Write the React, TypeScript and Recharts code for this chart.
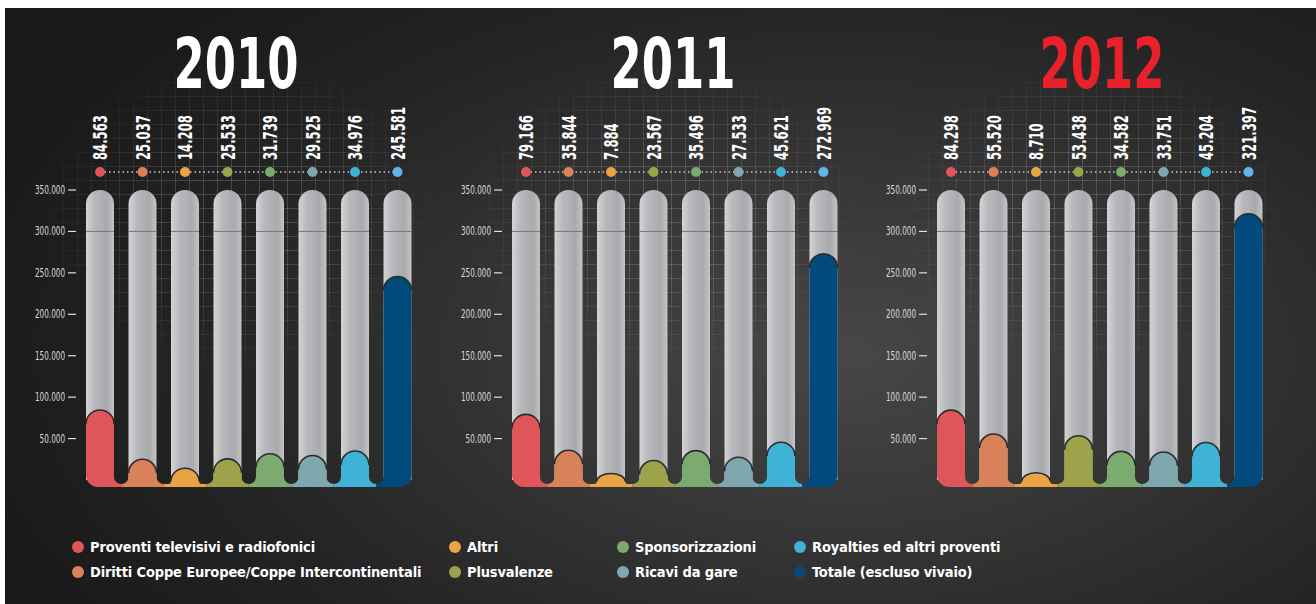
import React from "react";
import { Bar, BarChart, XAxis, YAxis } from "recharts";

const CATEGORIES = [
	"Proventi televisivi e radiofonici",
	"Diritti Coppe Europee/Coppe Intercontinentali",
	"Altri",
	"Plusvalenze",
	"Sponsorizzazioni",
	"Ricavi da gare",
	"Royalties ed altri proventi",
	"Totale (escluso vivaio)",
];

const YEARS = ["2010", "2011", "2012"];

const VALUES_2010 = [84563, 25037, 14208, 25533, 31739, 29525, 34976, 245581];
const VALUES_2011 = [79166, 35844, 7884, 23567, 35496, 27533, 45621, 272969];
const VALUES_2012 = [84298, 55520, 8710, 53438, 34582, 33751, 45204, 321397];

const Y_TICKS = [50000, 100000, 150000, 200000, 250000, 300000, 350000];
const Y_MAX = 350000;
const CAP_LEVEL = 300000; // seam line on the grey tubes

const BAR_COLORS = ["#df5559", "#d9825a", "#eba444", "#9ca34a", "#7bab6f", "#7fa8ae", "#3eb3d6", "#004a7c"];
const DOT_COLORS = ["#df5559", "#d9825a", "#eba444", "#9ca34a", "#7bab6f", "#7fa8ae", "#3eb3d6", "#5cb6ea"];
const LEGEND_COLORS = ["#df5559", "#d9825a", "#eba444", "#9ca34a", "#7bab6f", "#7fa8ae", "#3eb3d6", "#0a4a7a"];

// layout
const FONT = '"DejaVu Sans Condensed", "Liberation Sans", sans-serif';
const CHART_W = 420;
const CHART_H = 500;
const BAR_W = 28;
const STEP = 42.5;
const BASE_DROP = 7;
const PANEL_LEFT = [0, 426, 851];
const TITLE_X = [231, 242, 246];
const TITLE_COLORS = ["#ffffff", "#ffffff", "#e8212b"];
const LEGEND_COL_X = [73, 450, 618, 795];
const LEGEND_ROW_Y = [539, 564];

const fmt = (n: number) => String(n).replace(/\B(?=(\d{3})+(?!\d))/g, ".");

// width that a condensed face would give the string
const squeeze = (txt: string, digit: number, dot: number) =>
	txt.split("").reduce((acc, ch) => acc + (ch === "." ? dot : digit), 0);

function YTick(props: any) {
	const { x, y, payload } = props;
	const label = fmt(payload.value);
	return (
		<text
			x={x}
			y={y}
			textAnchor="end"
			dominantBaseline="central"
			fill="#d9d9d9"
			fontFamily={FONT}
			fontSize={12}
			textLength={squeeze(label, 4.6, 2.4)}
			lengthAdjust="spacingAndGlyphs"
		>
			{label}
		</text>
	);
}

function CapsuleBar(props: any) {
	const { x, y, width, height, index, background, payload, count } = props;
	const w = width;
	const L = x;
	const R = x + w;
	const cx = x + w / 2;
	const zero = y + height;
	const top = background ? background.y : 0;
	const B = zero + BASE_DROP;
	const T = y;
	const f = (STEP - w) / 2;
	const s = 3;
	const cr = 12;
	const levelY = (v: number) => zero - (v / Y_MAX) * (zero - top);

	// grey tube
	const tube = `M${L},${top + w / 2} A${w / 2},${w / 2} 0 0 1 ${R},${top + w / 2} L${R},${zero} L${L},${zero} Z`;
	const seam = levelY(CAP_LEVEL);

	// coloured fill with fillets into the neighbours
	const ry = Math.min(w / 2, Math.max(3, B - s - T - 3));
	const fl = Math.max(0, Math.min(f, B - s - T - ry));
	const hasLeft = index > 0;
	const hasRight = index < count - 1;
	let d = `M${L},${T + ry} A${w / 2},${ry} 0 0 1 ${R},${T + ry}`;
	if (hasRight) {
		d += ` L${R},${B - s - fl} A${fl},${fl} 0 0 0 ${R + fl},${B - s} L${R + f},${B - s} L${R + f},${B}`;
	} else {
		d += ` L${R},${B - cr} A${cr},${cr} 0 0 1 ${R - cr},${B}`;
	}
	if (hasLeft) {
		d += ` L${L - f},${B} L${L - f},${B - s} L${L - fl},${B - s} A${fl},${fl} 0 0 0 ${L},${B - s - fl}`;
	} else {
		d += ` L${L + cr},${B} A${cr},${cr} 0 0 1 ${L},${B - cr}`;
	}
	d += " Z";
	const outline = `M${L},${T + ry} A${w / 2},${ry} 0 0 1 ${R},${T + ry}`;

	const dotY = top - 18;
	const label = fmt(payload.value);
	return (
		<g>
			<path d={tube} fill="url(#tubeGrad)" />
			<line x1={L} x2={R} y1={seam} y2={seam} stroke="#75767a" strokeWidth={1} />
			<path d={d} fill={BAR_COLORS[index]} />
			<path d={outline} fill="none" stroke="#2c2c2e" strokeWidth={1.6} />
			{index === 0 && (
				<line
					x1={cx}
					x2={cx + STEP * (count - 1)}
					y1={dotY}
					y2={dotY}
					stroke="#c9c9c9"
					strokeWidth={1.4}
					strokeDasharray="1.5 3"
				/>
			)}
			<circle cx={cx} cy={dotY} r={5} fill={DOT_COLORS[index]} />
			<text
				transform={`translate(${cx},${dotY - 12}) rotate(-90)`}
				textAnchor="start"
				dominantBaseline="central"
				fill="#ffffff"
				fontFamily={FONT}
				fontWeight="bold"
				fontSize={20}
				textLength={squeeze(label, 8.2, 3.8)}
				lengthAdjust="spacingAndGlyphs"
			>
				{label}
			</text>
		</g>
	);
}

function YearPanel({ year, values, panel }: { year: string; values: number[]; panel: number }) {
	const rows = CATEGORIES.map((name, i) => ({ name, value: values[i] }));
	return (
		<div style={{ position: "absolute", left: PANEL_LEFT[panel], top: 0, width: CHART_W, height: CHART_H }}>
			<div
				style={{
					position: "absolute",
					left: 30,
					top: 60,
					width: 410,
					height: 330,
					backgroundImage:
						"linear-gradient(rgba(255,255,255,0.16) 1px, transparent 1px), linear-gradient(90deg, rgba(255,255,255,0.16) 1px, transparent 1px)",
					backgroundSize: "14px 14px",
					WebkitMaskImage: "radial-gradient(ellipse 50% 50% at 50% 45%, black 35%, transparent 100%)",
					maskImage: "radial-gradient(ellipse 50% 50% at 50% 45%, black 35%, transparent 100%)",
				}}
			/>
			<div style={{ position: "absolute", left: 0, top: 0 }}>
				<BarChart
					width={CHART_W}
					height={CHART_H}
					data={rows}
					margin={{ top: 182, right: 6, bottom: 28, left: 5 }}
					barSize={BAR_W}
				>
					<defs>
						<linearGradient id="tubeGrad" x1="0" y1="0" x2="1" y2="0">
							<stop offset="0%" stopColor="#d3d4d6" />
							<stop offset="30%" stopColor="#b8b9bc" />
							<stop offset="75%" stopColor="#a9aaad" />
							<stop offset="100%" stopColor="#c3c4c6" />
						</linearGradient>
					</defs>
					<text
						x={TITLE_X[panel]}
						y={80}
						textAnchor="middle"
						fill={TITLE_COLORS[panel]}
						fontFamily={FONT}
						fontWeight="bold"
						fontSize={70}
						textLength={125}
						lengthAdjust="spacingAndGlyphs"
					>
						{year}
					</text>
					<XAxis dataKey="name" hide padding={{ left: 3, right: 0 }} />
					<YAxis
						domain={[0, Y_MAX]}
						ticks={Y_TICKS}
						interval={0}
						width={66}
						axisLine={false}
						tickSize={8}
						tickMargin={3}
						tickLine={{ stroke: "#e2e2e2", strokeWidth: 1.2 }}
						tick={<YTick />}
					/>
					<Bar
						dataKey="value"
						isAnimationActive={false}
						shape={(p: any) => <CapsuleBar {...p} count={rows.length} />}
					/>
				</BarChart>
			</div>
		</div>
	);
}

export default function App() {
	const series = [VALUES_2010, VALUES_2011, VALUES_2012];
	return (
		<div
			style={{
				position: "absolute",
				left: 5,
				top: 8,
				width: 1311,
				height: 596,
				overflow: "hidden",
				background:
					"radial-gradient(ellipse 70% 85% at 64% 58%, #474748 0%, #363637 35%, #242425 70%, #19191a 100%)",
				fontFamily: FONT,
			}}
		>
			{YEARS.map((year, i) => (
				<YearPanel key={year} year={year} values={series[i]} panel={i} />
			))}
			{CATEGORIES.map((name, i) => (
				<div
					key={name}
					style={{
						position: "absolute",
						left: LEGEND_COL_X[Math.floor(i / 2)] - 6,
						top: LEGEND_ROW_Y[i % 2] - 10,
						height: 20,
						display: "flex",
						alignItems: "center",
						whiteSpace: "nowrap",
						color: "#ffffff",
						fontWeight: "bold",
						fontSize: 14.5,
						letterSpacing: -0.15,
					}}
				>
					<span
						style={{
							width: 12,
							height: 12,
							borderRadius: 6,
							background: LEGEND_COLORS[i],
							marginRight: 6,
							display: "inline-block",
						}}
					/>
					{name}
				</div>
			))}
		</div>
	);
}
